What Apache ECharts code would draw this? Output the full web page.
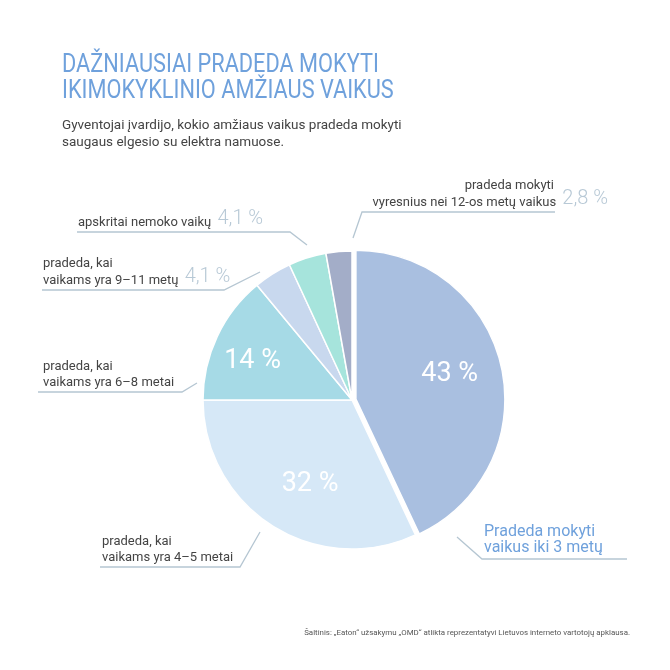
<!DOCTYPE html>
<html><head><meta charset="utf-8">
<script src="https://cdn.jsdelivr.net/npm/echarts@6/dist/echarts.min.js"></script>
<style>html,body{margin:0;padding:0;background:#fff}#c{width:670px;height:670px}</style>
</head><body><div id="c"></div>
<script>
// ---- data ----
const categories = [
  'Pradeda mokyti\nvaikus iki 3 metų',
  'pradeda, kai\nvaikams yra 4–5 metai',
  'pradeda, kai\nvaikams yra 6–8 metai',
  'pradeda, kai\nvaikams yra 9–11 metų',
  'apskritai nemoko vaikų',
  'pradeda mokyti\nvyresnius nei 12-os metų vaikus'
];
const values = [43, 32, 14, 4.1, 4.1, 2.8];
const valueLabels = ['43 %', '32 %', '14 %', '4,1 %', '4,1 %', '2,8 %'];
const titleText = 'DAŽNIAUSIAI PRADEDA MOKYTI\nIKIMOKYKLINIO AMŽIAUS VAIKUS';
const subtitleText = 'Gyventojai įvardijo, kokio amžiaus vaikus pradeda mokyti\nsaugaus elgesio su elektra namuose.';
const sourceText = 'Šaltinis: „Eaton“ užsakymu „OMD“ atlikta reprezentatyvi Lietuvos interneto vartotojų apklausa.';

// ---- styles / layout ----
const colors = ['#a9bfe0', '#d6e8f7', '#a6dae6', '#c8d8ee', '#a6e4dc', '#a3adc8'];
const FONT = 'Roboto';
const CENTER = [352, 400];
const R = 149;
// outside label anchors and leader lines (layout)
const labelPos = [
  {x: 484, y: 556, align: 'left',  pts: [[457, 537], [482, 559], [627, 559]]},
  {x: 102, y: 564, align: 'left',  pts: [[260, 532], [240, 567], [100, 567]]},
  {x: 43,  y: 389, align: 'left',  pts: [[197, 383], [182, 392], [38, 392]]},
  {x: 43,  y: 287, align: 'left',  pts: [[260, 272], [224, 290], [42, 290]]},
  {x: 78,  y: 229, align: 'left',  pts: [[307, 245], [290, 232], [77, 232]]},
  {x: 608, y: 209, align: 'right', pts: [[353, 238], [362, 212], [555, 212]]}
];
const innerShow = [true, true, true, false, false, false];
const innerShift = [[-8, -2], [14, -4], [-5, 6], [0, 0], [0, 0], [0, 0]];

function outerFormatter(p) {
  const i = p.dataIndex;
  const lines = categories[i].split('\n');
  if (i === 0) return lines.map(l => '{b|' + l + '}').join('\n');
  if (i === 1 || i === 2) return lines.map(l => '{t|' + l + '}').join('\n');
  if (i === 3) return '{t|' + lines[0] + '}\n{t|' + lines[1] + ' }{v|' + valueLabels[i] + '}';
  if (i === 4) return '{t|' + lines[0] + ' }{v|' + valueLabels[i] + '}';
  return '{t|' + lines[0] + '}{p|}\n{t|' + lines[1] + ' }{v|' + valueLabels[i] + '}';
}

const chart = echarts.init(document.getElementById('c'), null, {renderer: 'canvas'});
chart.setOption({
  backgroundColor: '#ffffff',
  animation: false,
  graphic: [
    {type: 'text', left: 62, top: 53, scaleX: 0.87, style: {text: titleText, font: '400 25px ' + FONT, fill: '#6fa1dc', lineHeight: 26}},
    {type: 'text', left: 62, top: 117, style: {text: subtitleText, font: '400 13.5px ' + FONT, fill: '#444444', lineHeight: 17}},
    {type: 'text', right: 40, top: 629, style: {text: sourceText, font: '400 7.9px ' + FONT, fill: '#555555'}}
  ],
  series: [
    { // slices
      type: 'pie',
      center: CENTER,
      radius: [0, R],
      startAngle: 90,
      clockwise: true,
      selectedMode: 'single',
      selectedOffset: 4,
      emphasis: {disabled: true},
      itemStyle: {borderColor: '#ffffff', borderWidth: 1.5},
      label: {show: false},
      labelLine: {show: false},
      data: values.map((v, i) => ({
        value: v, name: categories[i], selected: i === 0,
        itemStyle: {color: colors[i]}
      }))
    },
    { // inner percentage labels
      type: 'pie',
      silent: true,
      center: CENTER,
      radius: [0, R * 1.36],
      startAngle: 90,
      clockwise: true,
      selectedMode: 'single',
      selectedOffset: 4,
      avoidLabelOverlap: false,
      emphasis: {disabled: true},
      itemStyle: {color: 'rgba(0,0,0,0)'},
      label: {
        position: 'inside',
        fontFamily: FONT, fontSize: 27, color: '#ffffff',
        formatter: p => valueLabels[p.dataIndex]
      },
      labelLine: {show: false},
      labelLayout: function (params) {
        const s = innerShift[params.dataIndex];
        return {dx: s[0], dy: s[1]};
      },
      data: values.map((v, i) => ({
        value: v, name: categories[i], selected: i === 0,
        label: {show: innerShow[i]}
      }))
    },
    { // outside category labels with leader lines
      type: 'pie',
      silent: true,
      center: CENTER,
      radius: [0, R],
      startAngle: 90,
      clockwise: true,
      avoidLabelOverlap: false,
      emphasis: {disabled: true},
      itemStyle: {color: 'rgba(0,0,0,0)'},
      label: {
        show: true,
        position: 'outside',
        formatter: outerFormatter,
        rich: {
          t: {fontFamily: FONT, fontSize: 13, color: '#444444', lineHeight: 16, verticalAlign: 'bottom'},
          b: {fontFamily: FONT, fontSize: 16, color: '#6fa1dc', lineHeight: 16},
          v: {fontFamily: FONT, fontSize: 20, fontWeight: 300, color: '#b8c9d6', lineHeight: 17, verticalAlign: 'bottom', padding: [0, 0, 0, 3]},
          p: {width: 54}
        }
      },
      labelLine: {show: true, lineStyle: {color: '#b5c6d2', width: 1.3}},
      labelLayout: function (params) {
        const L = labelPos[params.dataIndex];
        return {x: L.x, y: L.y, align: L.align, verticalAlign: 'bottom', labelLinePoints: L.pts};
      },
      data: values.map((v, i) => ({value: v, name: categories[i]}))
    }
  ]
});
</script>
</body></html>
